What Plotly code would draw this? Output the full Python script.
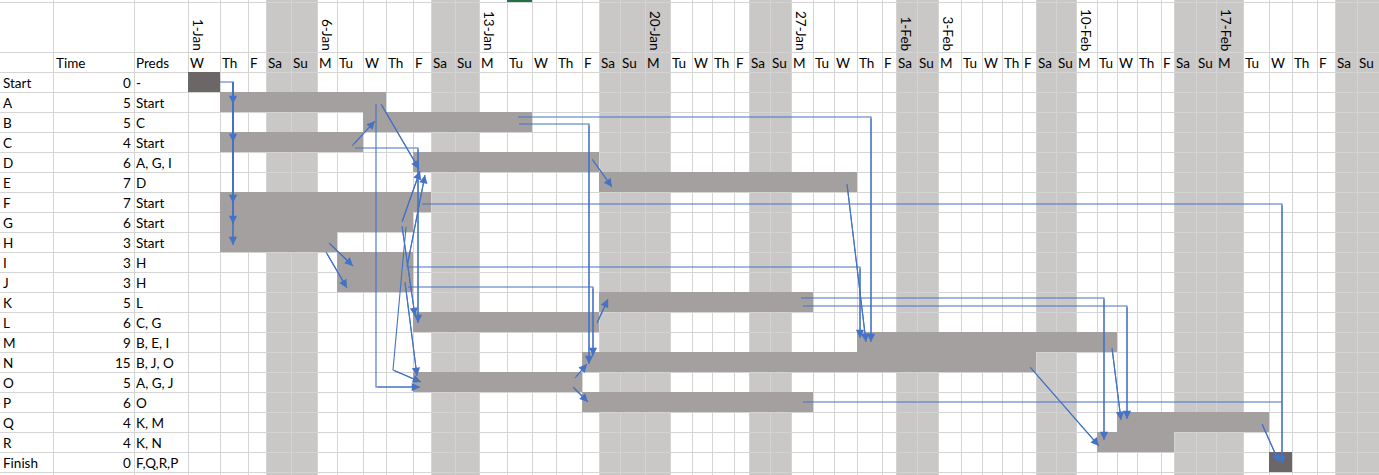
import plotly.graph_objects as go

# ---------------- data ----------------
tasks = ["Start", "A", "B", "C", "D", "E", "F", "G", "H", "I", "J", "K", "L",
         "M", "N", "O", "P", "Q", "R", "Finish"]
times = [0, 5, 5, 4, 6, 7, 7, 6, 3, 3, 3, 5, 6, 9, 15, 5, 6, 4, 4, 0]
preds = ["-", "Start", "C", "Start", "A, G, I", "D", "Start", "Start", "Start",
         "H", "H", "L", "C, G", "B, E, I", "B, J, O", "A, G, J", "O", "K, M",
         "K, N", "F,Q,R,P"]
# first / last calendar day (0 = 1-Jan) covered by each bar
bar_first = [0, 1, 7, 1, 9, 17, 1, 1, 1, 6, 6, 17, 9, 29, 16, 9, 16, 42, 41, 49]
bar_last = [0, 7, 13, 6, 16, 28, 9, 8, 5, 8, 8, 26, 16, 41, 37, 15, 26, 48, 44, 49]

day_labels = ["W", "Th", "F", "Sa", "Su", "M", "Tu",
              "W", "Th", "F", "Sa", "Su", "M", "Tu",
              "W", "Th", "F", "Sa", "Su", "M", "Tu",
              "W", "Th", "F", "Sa", "Su", "M", "Tu",
              "W", "Th", "F", "Sa", "Su", "M", "Tu",
              "W", "Th", "F", "Sa", "Su", "M", "Tu",
              "W", "Th", "F", "Sa", "Su", "M", "Tu",
              "W", "Th", "F", "Sa", "Su"]
date_labels = ["1-Jan", "6-Jan", "13-Jan", "20-Jan", "27-Jan", "1-Feb", "3-Feb", "10-Feb", "17-Feb"]
date_label_days = [0, 5, 12, 19, 26, 31, 33, 40, 47]
nonwork_days = [3, 4, 10, 11, 17, 18, 19, 24, 25, 31, 32, 38, 39, 45, 46, 47, 52, 53]

links = [("Start", "A"), ("Start", "C"), ("Start", "F"), ("Start", "G"), ("Start", "H"),
         ("C", "B"), ("A", "O"), ("A", "D"), ("C", "L"), ("B", "M"), ("B", "N"),
         ("J", "N"), ("I", "M"), ("E", "M"), ("D", "E"), ("F", "Finish"),
         ("P", "Finish"), ("Q", "Finish"), ("K", "R"), ("K", "Q"), ("M", "Q"),
         ("N", "R"), ("L", "K"), ("O", "N"), ("O", "P"), ("H", "I"), ("H", "J"),
         ("G", "D"), ("I", "D"), ("G", "L"), ("G", "O"), ("J", "O")]

# ---------------- layout / style ----------------
W, H = 1379, 475
col_edges = [188, 220, 248, 266, 291, 317, 337, 363, 386, 413, 431, 455, 479, 507,
             532, 556, 582, 599, 620, 645, 670, 692, 712, 734, 749, 770, 791, 813,
             834, 857, 882, 896, 917, 938, 961, 982, 1002, 1022, 1036, 1056, 1076,
             1097, 1117, 1137, 1161, 1174, 1196, 1216, 1243, 1269, 1292, 1317, 1335,
             1357, 1379]
left_cols = [0, 53, 134]
ROW0, ROW_H = 72, 20
HEAD_TOP, HEAD_MID = 2, 52
FONT = "Lato"
FS = 13.5
BAR_COL = "#a4a09f"
DARK_COL = "#6b6766"
WEEKEND_COL = "#c9c8c6"
GRID_COL = "#d4d4d4"
LINK_COL = "#4472C4"

# routing of connectors: points = (x-task, side, dx, y-task, dy); last point = arrow tip
routes = {
    ("Start", "A"): [("Start", "R", 0, "Start", 0), ("Start", "R", 13, "Start", 0), ("Start", "R", 13, "A", 2)],
    ("Start", "C"): [("Start", "R", 13, "Start", 0), ("Start", "R", 13, "C", 0)],
    ("Start", "F"): [("Start", "R", 13, "Start", 0), ("Start", "R", 13, "F", 1)],
    ("Start", "G"): [("Start", "R", 13, "Start", 0), ("Start", "R", 13, "G", 2)],
    ("Start", "H"): [("Start", "R", 13, "Start", 0), ("Start", "R", 13, "H", 3)],
    ("C", "B"): [("C", "R", -11, "C", 4), ("B", "L", 12, "B", -1)],
    ("A", "O"): [("A", "R", -10, "A", 2), ("A", "R", -10, "O", 5), ("O", "L", 7, "O", 5)],
    ("A", "D"): [("A", "R", -5, "A", 2), ("D", "L", 6, "D", 7)],
    ("C", "L"): [("C", "R", -8, "C", 6), ("L", "L", 5, "C", 6), ("L", "L", 5, "L", 1)],
    ("B", "M"): [("B", "R", -14, "B", -5), ("M", "L", 14, "B", -5), ("M", "L", 14, "M", 0)],
    ("B", "N"): [("B", "R", -13, "B", 2), ("N", "L", 7, "B", 2), ("N", "L", 7, "N", 2)],
    ("J", "N"): [("J", "R", -5, "J", 5), ("N", "L", 11, "J", 5), ("N", "L", 11, "N", -6)],
    ("I", "M"): [("I", "R", -5, "I", 5), ("M", "L", 3, "I", 5), ("M", "L", 3, "M", -4)],
    ("E", "M"): [("E", "R", -10, "E", 2), ("M", "L", 9, "M", 0)],
    ("D", "E"): [("D", "R", -7, "D", -3), ("E", "L", 13, "E", 5)],
    ("F", "Finish"): [("F", "R", -9, "F", 2), ("Finish", "L", 13, "F", 2), ("Finish", "L", 13, "Finish", 2)],
    ("P", "Finish"): [("P", "R", -10, "P", 0), ("Finish", "L", 13, "P", 0)],
    ("Q", "Finish"): [("Q", "R", -7, "Q", 2), ("Finish", "L", 10, "Finish", 0)],
    ("K", "R"): [("K", "R", -12, "K", -4), ("R", "L", 7, "K", -4), ("R", "L", 7, "R", -2)],
    ("K", "Q"): [("K", "R", -10, "K", 4), ("Q", "L", 10, "K", 4), ("Q", "L", 10, "Q", -3)],
    ("M", "Q"): [("M", "R", -5, "M", 6), ("Q", "L", 4, "Q", -2)],
    ("N", "R"): [("N", "R", -6, "N", 5), ("R", "L", 2, "R", 4)],
    ("L", "K"): [("L", "R", -2, "L", 1), ("K", "L", 9, "K", -3)],
    ("O", "N"): [("O", "R", -7, "O", -4), ("N", "L", 5, "N", 2)],
    ("O", "P"): [("O", "R", -9, "O", 5), ("P", "L", 6, "P", 0)],
    ("H", "I"): [("H", "R", -8, "H", 1), ("I", "L", 16, "I", 4)],
    ("H", "J"): [("H", "R", -11, "H", 10), ("J", "L", 10, "J", 6)],
    ("G", "D"): [("G", "R", -11, "G", 0), ("D", "L", 7, "D", 9)],
    ("I", "D"): [("I", "R", -6, "I", 5), ("D", "L", 12, "D", 13)],
    ("G", "L"): [("G", "R", -11, "G", 4), ("L", "L", 2, "L", -6)],
    ("G", "O"): [("G", "R", -7, "G", 5), ("O", "L", -20, "O", -12), ("O", "L", 8, "O", 0)],
    ("J", "O"): [("J", "R", -8, "J", 0), ("O", "L", 4, "O", -6)],
}
no_arrow = {("P", "Finish")}


def bar_edge(t, side):
    i = tasks.index(t)
    return col_edges[bar_first[i]] if side == "L" else col_edges[bar_last[i] + 1]


def row_c(t):
    return ROW0 + ROW_H * (tasks.index(t) + 0.5)


def pt(spec):
    xt, side, dx, yt, dy = spec
    return bar_edge(xt, side) + dx, row_c(yt) + dy


fig = go.Figure()

# weekend / holiday columns (cover the grid)
shapes = []
for d in nonwork_days:
    shapes.append(dict(type="rect", xref="x", yref="y", layer="below",
                       x0=col_edges[d], x1=col_edges[d + 1], y0=0, y1=H,
                       fillcolor=WEEKEND_COL, line_width=0))
# excel selected-column marker
shapes.append(dict(type="rect", xref="x", yref="y", layer="above",
                   x0=col_edges[13], x1=col_edges[14], y0=0, y1=2,
                   fillcolor="#217346", line_width=0))

# bars
ys = [row_c(t) for t in tasks]
lefts = [col_edges[f] for f in bar_first]
widths = [col_edges[l + 1] - col_edges[f] for f, l in zip(bar_first, bar_last)]
colors = [DARK_COL if t in ("Start", "Finish") else BAR_COL for t in tasks]
fig.add_trace(go.Bar(orientation="h", y=ys, x=widths, base=lefts, width=ROW_H,
                     marker=dict(color=colors, line_width=0), hoverinfo="skip",
                     showlegend=False))

# connector lines
lx, ly = [], []
annotations = []
for lk in links:
    pts = [pt(s) for s in routes[lk]]
    for p in pts:
        lx.append(p[0]); ly.append(p[1])
    lx.append(None); ly.append(None)
    if lk not in no_arrow:
        (ax_, ay_), (x_, y_) = pts[-2], pts[-1]
        annotations.append(dict(x=x_, y=y_, ax=ax_, ay=ay_, xref="x", yref="y",
                                axref="x", ayref="y", text="", showarrow=True,
                                arrowhead=2, arrowsize=1.5, arrowwidth=1.1,
                                arrowcolor=LINK_COL, standoff=0))
fig.add_trace(go.Scatter(x=lx, y=ly, mode="lines", line=dict(color=LINK_COL, width=1.1),
                         hoverinfo="skip", showlegend=False))

font = dict(family=FONT, size=FS, color="black")


def txt(x, y, s, xanchor="left", **kw):
    annotations.append(dict(x=x, y=y, xref="x", yref="y", text=s, showarrow=False,
                            xanchor=xanchor, yanchor="middle", font=font,
                            borderpad=0, borderwidth=0, **kw))


# header texts
hy = (HEAD_MID + ROW0) / 2 + 1
txt(left_cols[1] + 3, hy, "Time")
txt(left_cols[2] + 2, hy, "Preds")
for i, lab in enumerate(day_labels):
    txt(col_edges[i] + 2, hy, lab)
for lab, d in zip(date_labels, date_label_days):
    annotations.append(dict(x=col_edges[d] + 10, y=HEAD_MID + 1, xref="x", yref="y",
                            text=lab, showarrow=False, textangle=90,
                            xanchor="center", yanchor="bottom", font=font))
# task table
for i, t in enumerate(tasks):
    y = row_c(t) + 1
    txt(left_cols[0] + 3, y, t)
    txt(left_cols[2] - 3, y, str(times[i]), xanchor="right")
    txt(left_cols[2] + 2, y, preds[i])

grid_x = left_cols[1:] + col_edges
grid_y = [HEAD_TOP, HEAD_MID] + [ROW0 + ROW_H * k for k in range(len(tasks) + 1)]

fig.update_layout(
    width=W, height=H, margin=dict(l=0, r=0, t=0, b=0),
    paper_bgcolor="white", plot_bgcolor="white",
    shapes=shapes, annotations=annotations, showlegend=False,
    xaxis=dict(range=[0, W], tickvals=grid_x, showgrid=True, gridcolor=GRID_COL,
               gridwidth=1, showticklabels=False, ticks="", zeroline=False,
               showline=False, fixedrange=True),
    yaxis=dict(range=[H, 0], tickvals=grid_y, showgrid=True, gridcolor=GRID_COL,
               gridwidth=1, showticklabels=False, ticks="", zeroline=False,
               showline=False, fixedrange=True),
)
fig.write_html("out.html", config={"displayModeBar": False},
               post_script="document.body.style.margin='0';document.body.style.overflow='hidden';")
